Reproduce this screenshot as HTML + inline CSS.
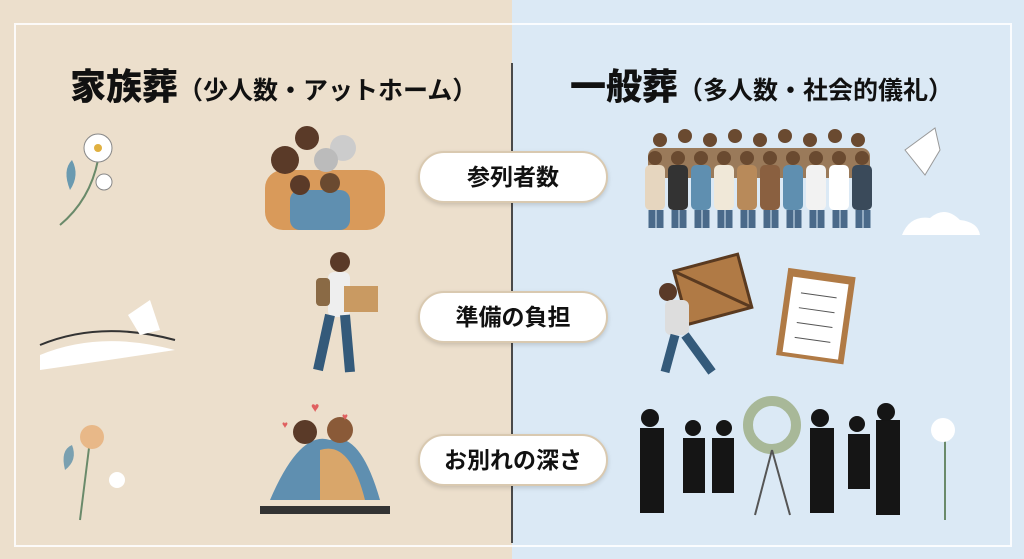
<!DOCTYPE html>
<html><head><meta charset="utf-8"><style>
body{margin:0;width:1024px;height:559px;overflow:hidden;font-family:"Liberation Sans","Noto Sans CJK JP",sans-serif;position:relative;background:#ecdfcc}
.r{position:absolute;left:512px;top:0;width:512px;height:559px;background:#dbe9f5}
.frame{position:absolute;left:14px;top:23px;width:994px;height:520px;border:2px solid rgba(255,255,255,.85)}
.div{position:absolute;left:511px;top:63px;width:2px;height:480px;background:#4a4a4a}
.t{position:absolute;top:58px;font-weight:bold;color:#111;white-space:nowrap}
.t b{font-size:36px}.t span{font-size:25px}
.pill{position:absolute;left:418px;width:186px;height:48px;background:#fff;border:2px solid #d9c9b0;border-radius:26px;box-shadow:0 2px 5px rgba(0,0,0,.15);text-align:center;line-height:48px;font-size:23px;font-weight:bold;color:#111}
</style></head><body>
<div class="r"></div>
<div class="frame"></div>
<div class="div"></div>
<div class="t" style="left:70px"><b>家族葬</b><span>（少人数・アットホーム）</span></div>
<div class="t" style="left:570px"><b>一般葬</b><span>（多人数・社会的儀礼）</span></div>
<svg width="1024" height="559" style="position:absolute;left:0;top:0">
<g>
<rect x="265" y="170" width="120" height="60" rx="18" fill="#d99a5a"/>
<circle cx="285" cy="160" r="14" fill="#5a3a28"/><circle cx="307" cy="138" r="12" fill="#5a3a28"/>
<circle cx="343" cy="148" r="13" fill="#ccc"/><circle cx="326" cy="160" r="12" fill="#bbb"/>
<rect x="290" y="190" width="60" height="40" rx="10" fill="#5f8fb0"/>
<circle cx="300" cy="185" r="10" fill="#5a3a28"/><circle cx="330" cy="183" r="10" fill="#6a4a30"/>
</g>
<circle cx="340" cy="262" r="10" fill="#5a3a28"/>
<rect x="328" y="272" width="22" height="45" rx="6" fill="#eee"/>
<rect x="316" y="278" width="14" height="28" rx="4" fill="#8a6a45"/>
<rect x="344" y="286" width="34" height="26" fill="#c99a62"/>
<path d="M330 315 L318 370 M345 315 L350 372" stroke="#345a7a" stroke-width="10"/>
<path d="M270 500 Q300 430 330 440 Q360 430 380 500 Z" fill="#5f8fb0"/>
<path d="M320 450 Q350 440 365 500 L320 500Z" fill="#d9a66a"/>
<circle cx="305" cy="432" r="12" fill="#5a3a28"/><circle cx="340" cy="430" r="13" fill="#8a5a38"/>
<path d="M260 510 L390 510" stroke="#333" stroke-width="8"/>
<text x="311" y="412" font-size="14" fill="#e06060">♥</text><text x="282" y="428" font-size="10" fill="#e06060">♥</text><text x="342" y="420" font-size="10" fill="#e06060">♥</text>
<path d="M60 225 Q90 200 98 160" stroke="#6a8a6a" stroke-width="2" fill="none"/>
<circle cx="98" cy="148" r="14" fill="#fff" stroke="#888"/><circle cx="98" cy="148" r="4" fill="#e0b040"/>
<circle cx="104" cy="182" r="8" fill="#fff" stroke="#888"/>
<path d="M70 190 Q62 170 72 160 Q80 175 70 190Z" fill="#6a9ab0"/>
<path d="M40 355 Q100 330 175 350 Q110 360 40 370Z" fill="#fff"/>
<path d="M40 345 Q100 320 175 340" stroke="#333" stroke-width="2" fill="none"/>
<path d="M128 315 L150 300 L160 330 L140 335Z" fill="#fff"/>
<path d="M80 520 Q85 480 90 440" stroke="#6a8a6a" stroke-width="2" fill="none"/>
<circle cx="92" cy="437" r="12" fill="#e8b888"/><circle cx="117" cy="480" r="8" fill="#fff"/>
<path d="M65 470 Q60 450 72 445 Q78 460 65 470Z" fill="#7aa0b0"/>
<!-- crowd -->
<g>
<g fill="#6a4a30"><circle cx="660" cy="140" r="7"/><circle cx="685" cy="136" r="7"/><circle cx="710" cy="140" r="7"/><circle cx="735" cy="136" r="7"/><circle cx="760" cy="140" r="7"/><circle cx="785" cy="136" r="7"/><circle cx="810" cy="140" r="7"/><circle cx="835" cy="136" r="7"/><circle cx="858" cy="140" r="7"/></g>
<rect x="648" y="148" width="222" height="30" rx="8" fill="#9a7a5a"/>
<g fill="#b88a5a"><rect x="645" y="165" width="20" height="45" rx="5" fill="#e6d6bf"/><rect x="668" y="165" width="20" height="45" rx="5" fill="#333"/><rect x="691" y="165" width="20" height="45" rx="5" fill="#5f8fb0"/><rect x="714" y="165" width="20" height="45" rx="5" fill="#f0e8d8"/><rect x="737" y="165" width="20" height="45" rx="5"/><rect x="760" y="165" width="20" height="45" rx="5" fill="#8a6040"/><rect x="783" y="165" width="20" height="45" rx="5" fill="#5f8fb0"/><rect x="806" y="165" width="20" height="45" rx="5" fill="#f2f2f2"/><rect x="829" y="165" width="20" height="45" rx="5" fill="#fff"/><rect x="852" y="165" width="20" height="45" rx="5" fill="#3a4a5a"/></g>
<g fill="#6a4a30"><circle cx="655" cy="158" r="7"/><circle cx="678" cy="158" r="7"/><circle cx="701" cy="158" r="7"/><circle cx="724" cy="158" r="7"/><circle cx="747" cy="158" r="7"/><circle cx="770" cy="158" r="7"/><circle cx="793" cy="158" r="7"/><circle cx="816" cy="158" r="7"/><circle cx="839" cy="158" r="7"/><circle cx="862" cy="158" r="7"/></g>
<g stroke="#4a6a8a" stroke-width="7"><path d="M652 210V228M660 210V228M675 210V228M683 210V228M698 210V228M706 210V228M721 210V228M729 210V228M744 210V228M752 210V228M767 210V228M775 210V228M790 210V228M798 210V228M813 210V228M821 210V228M836 210V228M844 210V228M859 210V228M867 210V228"/></g>
</g>
<path d="M905 150 L935 128 L940 150 L925 175Z" fill="#fff" stroke="#999"/>
<path d="M902 235 Q910 215 930 218 Q945 205 960 220 Q978 222 980 235Z" fill="#fff"/>
<g transform="rotate(-15 712 290)"><rect x="680" y="262" width="66" height="55" fill="#b07a45" stroke="#5a3a20" stroke-width="3"/><path d="M680 262 L746 317" stroke="#5a3a20" stroke-width="3"/></g>
<circle cx="668" cy="292" r="9" fill="#5a3a28"/>
<rect x="665" y="300" width="24" height="35" rx="6" fill="#ddd"/>
<path d="M675 335 L665 372 M685 335 L712 372" stroke="#345a7a" stroke-width="9"/>
<g transform="rotate(8 815 315)"><rect x="782" y="272" width="68" height="88" fill="#b07a45"/><rect x="788" y="280" width="56" height="76" fill="#fff"/><path d="M798 295h36M798 310h36M798 325h36M798 340h36" stroke="#555"/></g>
<g fill="#151515">
<rect x="640" y="428" width="24" height="85"/><circle cx="650" cy="418" r="9"/>
<rect x="683" y="438" width="22" height="55"/><circle cx="693" cy="428" r="8"/>
<rect x="712" y="438" width="22" height="55"/><circle cx="724" cy="428" r="8"/>
<rect x="810" y="428" width="24" height="85"/><circle cx="820" cy="418" r="9"/>
<rect x="848" y="434" width="22" height="55"/><circle cx="857" cy="424" r="8"/>
<rect x="876" y="420" width="24" height="95"/><circle cx="886" cy="412" r="9"/>
</g>
<circle cx="772" cy="425" r="24" fill="none" stroke="#a8b898" stroke-width="10"/>
<path d="M772 450 L755 515 M772 450 L790 515" stroke="#555" stroke-width="2"/>
<path d="M945 520 Q945 480 945 440" stroke="#6a8a6a" stroke-width="2"/><circle cx="943" cy="430" r="12" fill="#fff"/>
</svg>
<div class="pill" style="top:151px">参列者数</div>
<div class="pill" style="top:291px">準備の負担</div>
<div class="pill" style="top:434px">お別れの深さ</div>
</body></html>
